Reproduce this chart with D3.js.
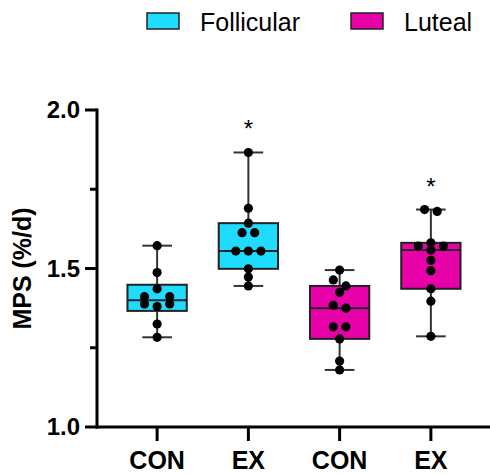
<!DOCTYPE html>
<html>
<head>
<meta charset="utf-8">
<script src="https://cdn.jsdelivr.net/npm/d3@7"></script>
<style>
  html, body { margin: 0; padding: 0; background: #fff; }
  svg { display: block; font-family: Arial, "Liberation Sans", sans-serif; }
</style>
</head>
<body>
<svg id="chart" width="490" height="474"></svg>
<script>
// Data
const phases = ['Follicular', 'Luteal'];
const conditions = ['CON', 'EX'];
const phaseColors = ['#1fdcff', '#e601a9'];

const follicularCON = [1.572, 1.487, 1.436, 1.411, 1.411, 1.388, 1.388, 1.380, 1.325, 1.283];
const follicularEX = [1.866, 1.690, 1.643, 1.613, 1.613, 1.555, 1.555, 1.555, 1.499, 1.473, 1.445];
const lutealCON = [1.495, 1.464, 1.445, 1.425, 1.384, 1.375, 1.316, 1.316, 1.278, 1.208, 1.180];
const lutealEX = [1.686, 1.680, 1.581, 1.571, 1.571, 1.558, 1.526, 1.493, 1.436, 1.397, 1.286];
const significant = [false, true, false, true];

const yTicks = [1.0, 1.5, 2.0];
const yMinorTicks = [1.25, 1.75];

const groups = [
  { phase: 0, cond: conditions[0], values: follicularCON },
  { phase: 0, cond: conditions[1], values: follicularEX },
  { phase: 1, cond: conditions[0], values: lutealCON },
  { phase: 1, cond: conditions[1], values: lutealEX }
].map((g, i) => ({ ...g, id: i, sig: significant[i] }));

const svg = d3.select('#chart');

const x = d3.scaleBand()
  .domain(groups.map((g) => g.id))
  .range([111.5, 476.5])
  .paddingInner(0.35)
  .paddingOuter(0.175);

const y = d3.scaleLinear().domain([1.0, 2.0]).range([427, 110]);

// Prism-style quartiles (n+1 basis)
function quantileExc(sorted, p) {
  const pos = p * (sorted.length + 1) - 1;
  const lo = Math.max(0, Math.floor(pos));
  const hi = Math.min(sorted.length - 1, lo + 1);
  return sorted[lo] + (pos - lo) * (sorted[hi] - sorted[lo]);
}

// simple row layout for the scatter dots
function dotOffsets(values) {
  const pts = values.map((v) => ({ v, py: y(v) })).sort((a, b) => a.py - b.py);
  const rows = [];
  let row = null;
  for (const p of pts) {
    if (row && p.py - row[0].py < 8.2 && row.length < 3) row.push(p);
    else { row = [p]; rows.push(row); }
  }
  const spacing = 12.6;
  for (const r of rows) {
    let ordered = r;
    if (r.length === 3) {
      const mean = d3.mean(r, (d) => d.py);
      const mid = d3.greatestIndex(r, (d) => Math.abs(d.py - mean));
      const rest = r.filter((_, i) => i !== mid);
      ordered = [rest[0], r[mid], rest[1]];
    }
    ordered.forEach((p, i) => { p.dx = (i - (ordered.length - 1) / 2) * spacing; });
  }
  return pts;
}

// Axes
const yAxis = svg.append('g').attr('transform', 'translate(97,0)');
yAxis.append('line')
  .attr('x1', 0).attr('x2', 0)
  .attr('y1', y(2.0) - 1.5).attr('y2', y(1.0) + 1.5)
  .attr('stroke', '#000').attr('stroke-width', 3);
yAxis.selectAll('.major')
  .data(yTicks)
  .join('line')
  .attr('x1', -12).attr('x2', 0)
  .attr('y1', (d) => y(d)).attr('y2', (d) => y(d))
  .attr('stroke', '#000').attr('stroke-width', 3);
yAxis.selectAll('.minor')
  .data(yMinorTicks)
  .join('line')
  .attr('x1', -7).attr('x2', 0)
  .attr('y1', (d) => y(d)).attr('y2', (d) => y(d))
  .attr('stroke', '#000').attr('stroke-width', 3);
yAxis.selectAll('text')
  .data(yTicks)
  .join('text')
  .attr('x', -17)
  .attr('y', (d) => y(d))
  .attr('dy', '0.35em')
  .attr('text-anchor', 'end')
  .attr('font-size', 24)
  .attr('font-weight', 'bold')
  .text((d) => d3.format('.1f')(d));

svg.append('text')
  .attr('transform', `translate(31,${y(1.5)}) rotate(-90)`)
  .attr('text-anchor', 'middle')
  .attr('font-size', 25)
  .attr('font-weight', 'bold')
  .text('MPS (%/d)');

const xAxis = svg.append('g');
xAxis.append('line')
  .attr('x1', 95.5).attr('x2', 490)
  .attr('y1', y(1.0)).attr('y2', y(1.0))
  .attr('stroke', '#000').attr('stroke-width', 3);
xAxis.selectAll('.tick')
  .data(groups)
  .join('line')
  .attr('x1', (d) => x(d.id) + x.bandwidth() / 2)
  .attr('x2', (d) => x(d.id) + x.bandwidth() / 2)
  .attr('y1', y(1.0)).attr('y2', y(1.0) + 14)
  .attr('stroke', '#000').attr('stroke-width', 3);
xAxis.selectAll('text')
  .data(groups)
  .join('text')
  .attr('x', (d) => x(d.id) + x.bandwidth() / 2)
  .attr('y', 469)
  .attr('text-anchor', 'middle')
  .attr('font-size', 25)
  .attr('font-weight', 'bold')
  .text((d) => d.cond);

// Boxes
const box = svg.append('g').selectAll('g')
  .data(groups)
  .join('g')
  .attr('transform', (d) => `translate(${x(d.id) + x.bandwidth() / 2},0)`);

box.each(function (d) {
  const g = d3.select(this);
  const s = d.values.slice().sort(d3.ascending);
  const q1 = quantileExc(s, 0.25);
  const med = quantileExc(s, 0.5);
  const q3 = quantileExc(s, 0.75);
  const lo = s[0];
  const hi = s[s.length - 1];
  const w = x.bandwidth();

  g.append('line')
    .attr('x1', 0).attr('x2', 0).attr('y1', y(hi)).attr('y2', y(lo))
    .attr('stroke', '#333').attr('stroke-width', 2);
  g.selectAll('.cap')
    .data([lo, hi])
    .join('line')
    .attr('x1', -w / 4).attr('x2', w / 4)
    .attr('y1', (v) => y(v)).attr('y2', (v) => y(v))
    .attr('stroke', '#333').attr('stroke-width', 2);
  g.append('rect')
    .attr('x', -w / 2).attr('width', w)
    .attr('y', y(q3)).attr('height', y(q1) - y(q3))
    .attr('fill', phaseColors[d.phase])
    .attr('stroke', '#222').attr('stroke-width', 2);
  g.append('line')
    .attr('x1', -w / 2).attr('x2', w / 2).attr('y1', y(med)).attr('y2', y(med))
    .attr('stroke', '#222').attr('stroke-width', 2);

  g.selectAll('circle')
    .data(dotOffsets(d.values))
    .join('circle')
    .attr('cx', (p) => p.dx)
    .attr('cy', (p) => p.py)
    .attr('r', 4.6)
    .attr('fill', '#000');

  if (d.sig) {
    g.append('text')
      .attr('x', 0)
      .attr('y', y(hi) - 15)
      .attr('text-anchor', 'middle')
      .attr('font-size', 24)
      .text('*');
  }
});

// Legend
const legendX = [147, 351];
const legend = svg.append('g').selectAll('g')
  .data(phases)
  .join('g')
  .attr('transform', (d, i) => `translate(${legendX[i]},13)`);
legend.append('rect')
  .attr('width', 32).attr('height', 16)
  .attr('fill', (d, i) => phaseColors[i])
  .attr('stroke', '#222').attr('stroke-width', 1.5);
legend.append('text')
  .attr('x', 53)
  .attr('y', 18)
  .attr('font-size', 25)
  .text((d) => d);
</script>
</body>
</html>
